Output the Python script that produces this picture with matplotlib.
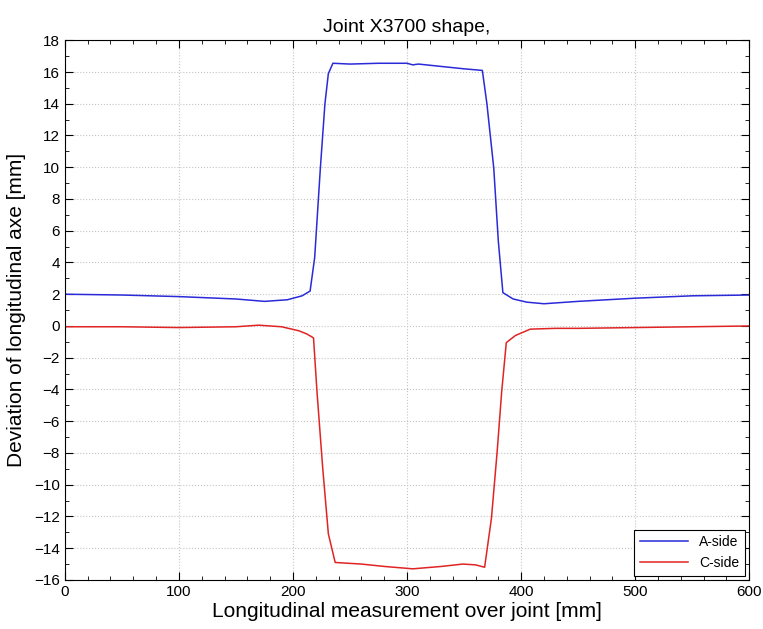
import matplotlib
matplotlib.use('Agg')
import numpy as np
import matplotlib.pyplot as plt
from matplotlib.ticker import MultipleLocator

plt.rcParams['font.family'] = ['Liberation Sans', 'DejaVu Sans']

# A-side profile (position [mm], deviation [mm])
a_x = [0, 50, 100, 150, 175, 195, 208, 215, 219, 224, 228, 231, 235, 250, 275,
       300, 305, 310, 330, 350, 366, 370, 376, 380, 384, 393, 405, 420, 450,
       500, 550, 600]
a_y = [2.0, 1.95, 1.85, 1.7, 1.55, 1.65, 1.9, 2.2, 4.3, 9.95, 14.0, 15.9, 16.55,
       16.5, 16.55, 16.55, 16.45, 16.5, 16.35, 16.2, 16.1, 14.0, 9.95, 5.35,
       2.1, 1.7, 1.5, 1.4, 1.55, 1.75, 1.9, 1.95]

# C-side profile
c_x = [0, 50, 100, 150, 170, 190, 205, 212, 218, 221, 226, 231, 237, 260, 280,
       305, 330, 349, 360, 368, 374, 379, 383, 387, 395, 408, 430, 450, 500,
       550, 600]
c_y = [-0.05, -0.05, -0.1, -0.05, 0.05, -0.05, -0.3, -0.5, -0.75, -4.1, -8.9,
       -13.1, -14.9, -15.0, -15.15, -15.3, -15.15, -15.0, -15.05, -15.2, -12.1,
       -7.9, -4.1, -1.05, -0.6, -0.2, -0.15, -0.15, -0.1, -0.05, 0.0]

fig = plt.figure(figsize=(7.63, 6.29), dpi=100)
ax = fig.add_axes([0.085, 0.078, 0.897, 0.858])

ax.plot(a_x, a_y, color='#2a2ad8', lw=1.1, label='A-side')
ax.plot(c_x, c_y, color='#e02424', lw=1.1, label='C-side')

ax.set_xlim(0, 600)
ax.set_ylim(-16, 18)
ax.xaxis.set_major_locator(MultipleLocator(100))
ax.xaxis.set_minor_locator(MultipleLocator(20))
ax.yaxis.set_major_locator(MultipleLocator(2))
ax.yaxis.set_minor_locator(MultipleLocator(1))
ax.tick_params(which='both', direction='in', top=True, right=True, labelsize=11)
ax.tick_params(which='major', length=6)
ax.tick_params(which='minor', length=3)
ax.grid(True, which='major', linestyle=':', color='#c4c4c4', lw=0.8)

ax.set_title('Joint X3700 shape,', fontsize=14, pad=6)
ax.set_xlabel('Longitudinal measurement over joint [mm]', fontsize=15, labelpad=2)
ax.set_ylabel('Deviation of longitudinal axe [mm]', fontsize=15, labelpad=6)

leg = ax.legend(loc='lower right', fontsize=10, fancybox=False, edgecolor='black',
                framealpha=1, borderaxespad=0.3, handlelength=3.5)
leg.get_frame().set_linewidth(0.8)

fig.savefig('out.png', dpi=100)
